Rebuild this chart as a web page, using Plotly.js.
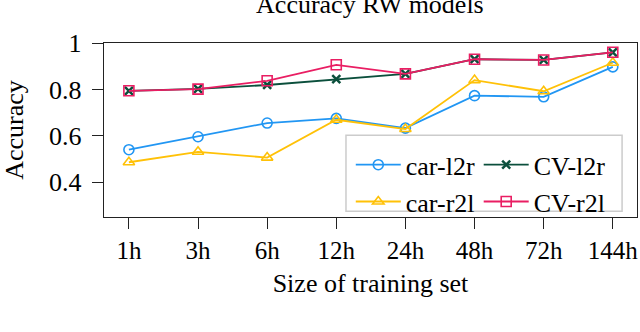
<!DOCTYPE html>
<html>
<head>
<meta charset="utf-8">
<script src="https://cdn.plot.ly/plotly-3.0.1.min.js"></script>
<style>
  html, body { margin: 0; padding: 0; background: #fff; }
  #chart { width: 640px; height: 332px; }
</style>
</head>
<body>
<div id="chart"></div>
<script>
// Trainingsgrößen (x-Achse)
const sizes = ['1h', '3h', '6h', '12h', '24h', '48h', '72h', '144h'];

// Genauigkeit pro Modell
const carL2r = [0.540, 0.596, 0.655, 0.675, 0.633, 0.773, 0.768, 0.897];
const carR2l = [0.486, 0.531, 0.506, 0.669, 0.629, 0.840, 0.792, 0.915];
const cvL2r  = [0.794, 0.802, 0.819, 0.844, 0.867, 0.930, 0.927, 0.960];
const cvR2l  = [0.794, 0.801, 0.837, 0.906, 0.867, 0.930, 0.927, 0.960];

const FONT = 'Liberation Serif, Times New Roman, serif';

// Gemeinsame Trace-Erstellung
function makeTrace(name, values, color, symbol, legend) {
    return {
        x: sizes,
        y: values,
        name: name,
        type: 'scatter',
        mode: 'lines+markers',
        legend: legend,
        line: { color: color, width: 1.8 },
        marker: {
            symbol: symbol,
            size: 10,
            color: color,
            line: { color: color, width: 1.6 }
        }
    };
}

const traces = [
    makeTrace('car-l2r', carL2r, '#2196F3', 'circle-open', 'legend'),
    makeTrace('car-r2l', carR2l, '#FFC107', 'triangle-up-open', 'legend'),
    makeTrace('CV-l2r', cvL2r, '#0B4F3C', 'x-thin-open', 'legend2'),
    makeTrace('CV-r2l', cvR2l, '#E91E63', 'square-open', 'legend2')
];
traces[2].marker.size = 8;
traces[2].marker.line.width = 2.5;

const legendBase = {
    xanchor: 'left',
    yanchor: 'top',
    y: 0.435,
    bgcolor: 'rgba(0,0,0,0)',
    borderwidth: 0,
    itemwidth: 45,
    tracegroupgap: 0,
    font: { family: FONT, size: 26, color: '#000' }
};

const layout = {
    width: 640,
    height: 332,
    margin: { l: 104, r: 3, t: 43, b: 115 },
    paper_bgcolor: '#fff',
    plot_bgcolor: '#fff',
    font: { family: FONT, size: 25, color: '#000' },
    title: {
        text: 'Accuracy RW models',
        font: { family: FONT, size: 26, color: '#000' },
        x: 0.578,
        xanchor: 'center',
        yref: 'container',
        y: 0.988,
        yanchor: 'middle'
    },
    xaxis: {
        type: 'category',
        range: [-0.36, 7.35],
        showline: true,
        mirror: true,
        linecolor: '#222',
        linewidth: 1.3,
        showgrid: false,
        zeroline: false,
        ticks: 'outside',
        ticklen: 11,
        tickwidth: 1,
        tickcolor: '#222',
        tickfont: { family: FONT, size: 25, color: '#000' },
        title: {
            text: 'Size of training set',
            font: { family: FONT, size: 26, color: '#000' },
            standoff: 10
        },
        fixedrange: true
    },
    yaxis: {
        range: [0.25, 1],
        tickvals: [0.4, 0.6, 0.8, 1],
        ticktext: ['0.4', '0.6', '0.8', '1'],
        showline: true,
        mirror: true,
        linecolor: '#222',
        linewidth: 1.3,
        showgrid: false,
        zeroline: false,
        ticks: 'outside',
        ticklen: 11,
        tickwidth: 1,
        tickcolor: '#222',
        ticklabelstandoff: 5,
        tickfont: { family: FONT, size: 26, color: '#000' },
        title: {
            text: 'Accuracy',
            font: { family: FONT, size: 26, color: '#000' },
            standoff: 18
        },
        fixedrange: true
    },
    showlegend: true,
    legend: Object.assign({}, legendBase, { x: 0.463 }),
    legend2: Object.assign({}, legendBase, { x: 0.703 }),
    // Rahmen um beide Legendenspalten
    shapes: [{
        type: 'rect',
        xref: 'paper', yref: 'paper',
        x0: 0.454, x1: 0.972, y0: 0.033, y1: 0.47,
        layer: 'above',
        fillcolor: '#fff',
        line: { color: '#cccccc', width: 1.5 }
    }]
};

Plotly.newPlot('chart', traces, layout, { displayModeBar: false, staticPlot: true });
</script>
</body>
</html>
